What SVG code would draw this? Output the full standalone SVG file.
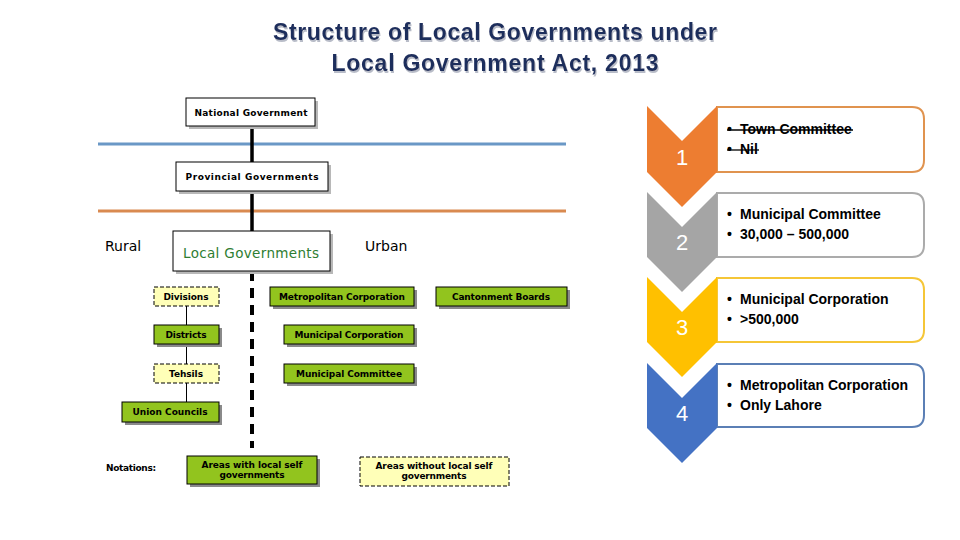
<svg xmlns="http://www.w3.org/2000/svg" width="960" height="540" viewBox="0 0 960 540">
<style>
.title{font-family:"Liberation Sans",Arial,sans-serif;font-weight:bold;font-size:23px;fill:#1F2D5C;text-anchor:middle}
.bx{font-family:"DejaVu Sans",Verdana,sans-serif;font-weight:bold;font-size:9px;fill:#000;text-anchor:middle}
.wbox{fill:#fff;stroke:#000;stroke-width:1}
.gbox{fill:#92C41E;stroke:#000;stroke-width:1}
.ybox{fill:#FFFFB8;stroke:#000;stroke-width:1;stroke-dasharray:4 2}
.sh{fill:#8a8a8a}
.shl{fill:#b8b8b8}
.lbl{font-family:"DejaVu Sans",Verdana,sans-serif;font-size:14px;fill:#000}
.num{font-family:"Liberation Sans",Arial,sans-serif;font-size:22px;fill:#fff;text-anchor:middle}
.lst{font-family:"Liberation Sans",Arial,sans-serif;font-weight:bold;font-size:14px;fill:#000}
</style>
<defs>
<filter id="tsh" x="-5%" y="-20%" width="110%" height="150%">
<feDropShadow dx="1" dy="2" stdDeviation="0.6" flood-color="#9aa0b0" flood-opacity="0.7"/>
</filter>
</defs>

<g id="title" filter="url(#tsh)">
<text class="title" x="495" y="40" textLength="444">Structure of Local Governments under</text>
<text class="title" x="495" y="71" textLength="327">Local Government Act, 2013</text>
</g>

<g id="connectors">
<line x1="98" y1="144" x2="566" y2="144" stroke="#6A98C6" stroke-width="3"/>
<line x1="98" y1="211" x2="566" y2="211" stroke="#D98A50" stroke-width="3"/>
<line x1="252" y1="126" x2="252" y2="162" stroke="#000" stroke-width="3.5"/>
<line x1="252" y1="191" x2="252" y2="231" stroke="#000" stroke-width="3.5"/>
<line x1="252" y1="271" x2="252" y2="448" stroke="#000" stroke-width="4" stroke-dasharray="10 7"/>
<line x1="186.5" y1="306" x2="186.5" y2="402" stroke="#000" stroke-width="1"/>
</g>

<g id="national">
<rect class="shl" x="189" y="101" width="129" height="28"/>
<rect class="wbox" x="186" y="98" width="129" height="28"/>
<text class="bx" x="251" y="116" textLength="113">National Government</text>
</g>

<g id="provincial">
<rect class="shl" x="179" y="165" width="152" height="29"/>
<rect class="wbox" x="176" y="162" width="152" height="29"/>
<text class="bx" x="252" y="180" font-size="10.5" textLength="133">Provincial Governments</text>
</g>

<g id="local">
<rect class="shl" x="176" y="234" width="157" height="40"/>
<rect class="wbox" x="173" y="231" width="157" height="40"/>
<text x="251" y="258" font-family="DejaVu Sans,Verdana,sans-serif" font-size="13.5" fill="#2E7D32" text-anchor="middle" textLength="136">Local Governments</text>
</g>

<g id="rural"><text class="lbl" x="105" y="251">Rural</text></g>
<g id="urban"><text class="lbl" x="365" y="251">Urban</text></g>

<g id="divisions">
<rect class="ybox" x="154" y="287" width="65" height="19"/>
<text class="bx" x="186" y="300" textLength="45">Divisions</text>
</g>
<g id="metro">
<rect class="sh" x="273" y="290" width="144" height="19"/>
<rect class="gbox" x="270" y="287" width="144" height="19"/>
<text class="bx" x="342" y="300" textLength="126">Metropolitan Corporation</text>
</g>
<g id="cantonment">
<rect class="sh" x="439" y="290" width="131" height="19"/>
<rect class="gbox" x="436" y="287" width="131" height="19"/>
<text class="bx" x="501" y="300" textLength="98">Cantonment Boards</text>
</g>
<g id="districts">
<rect class="sh" x="157" y="328" width="65" height="19"/>
<rect class="gbox" x="154" y="325" width="65" height="19"/>
<text class="bx" x="186" y="338" textLength="41">Districts</text>
</g>
<g id="municorp">
<rect class="sh" x="287" y="328" width="130" height="19"/>
<rect class="gbox" x="284" y="325" width="130" height="19"/>
<text class="bx" x="349" y="338" textLength="109">Municipal Corporation</text>
</g>
<g id="tehsils">
<rect class="ybox" x="154" y="364" width="65" height="19"/>
<text class="bx" x="186" y="377" textLength="34">Tehsils</text>
</g>
<g id="municomm">
<rect class="sh" x="287" y="367" width="130" height="19"/>
<rect class="gbox" x="284" y="364" width="130" height="19"/>
<text class="bx" x="349" y="377" textLength="106">Municipal Committee</text>
</g>
<g id="union">
<rect class="sh" x="125" y="405" width="97" height="20"/>
<rect class="gbox" x="122" y="402" width="97" height="20"/>
<text class="bx" x="170" y="415" textLength="75">Union Councils</text>
</g>

<g id="notations">
<text class="bx" x="106" y="471" style="text-anchor:start" textLength="50">Notations:</text>
</g>
<g id="legend-with">
<rect class="sh" x="190" y="459" width="130" height="28"/>
<rect class="gbox" x="187" y="456" width="130" height="28"/>
<text class="bx" x="252" y="468" textLength="101">Areas with local self</text>
<text class="bx" x="252" y="478" textLength="65">governments</text>
</g>
<g id="legend-without">
<rect class="ybox" x="360" y="457" width="149" height="29"/>
<text class="bx" x="434" y="469" textLength="117">Areas without local self</text>
<text class="bx" x="434" y="479" textLength="65">governments</text>
</g>

<g id="step1">
<path d="M717,107 H912 Q924,107 924,119 V160 Q924,172 912,172 H717 Z" fill="#fff" stroke="#E0934F" stroke-width="2"/>
<path d="M647,106 L682,141 L717,106 V172 L682,207 L647,172 Z" fill="#ED7D31"/>
<text class="num" x="682" y="165">1</text>
<text class="lst" x="727" y="134">•</text><text class="lst" x="740" y="134">Town Committee</text>
<text class="lst" x="727" y="154">•</text><text class="lst" x="740" y="154">Nil</text>
<line x1="727" y1="130" x2="853" y2="130" stroke="#000" stroke-width="1.3"/>
<line x1="727" y1="150" x2="759" y2="150" stroke="#000" stroke-width="1.3"/>
</g>
<g id="step2">
<path d="M717,193 H912 Q924,193 924,205 V245 Q924,257 912,257 H717 Z" fill="#fff" stroke="#ABABAB" stroke-width="2"/>
<path d="M647,192 L682,227 L717,192 V257 L682,292 L647,257 Z" fill="#A5A5A5"/>
<text class="num" x="682" y="250">2</text>
<text class="lst" x="727" y="219">•</text><text class="lst" x="740" y="219">Municipal Committee</text>
<text class="lst" x="727" y="239">•</text><text class="lst" x="740" y="239">30,000 – 500,000</text>
</g>
<g id="step3">
<path d="M717,278 H912 Q924,278 924,290 V330 Q924,342 912,342 H717 Z" fill="#fff" stroke="#F5C637" stroke-width="2"/>
<path d="M647,277 L682,312 L717,277 V342 L682,377 L647,342 Z" fill="#FFC000"/>
<text class="num" x="682" y="335">3</text>
<text class="lst" x="727" y="304">•</text><text class="lst" x="740" y="304">Municipal Corporation</text>
<text class="lst" x="727" y="324">•</text><text class="lst" x="740" y="324">&gt;500,000</text>
</g>
<g id="step4">
<path d="M717,364 H912 Q924,364 924,376 V415 Q924,427 912,427 H717 Z" fill="#fff" stroke="#5B7FB5" stroke-width="2"/>
<path d="M647,363 L682,398 L717,363 V428 L682,463 L647,428 Z" fill="#4472C4"/>
<text class="num" x="682" y="421">4</text>
<text class="lst" x="727" y="390">•</text><text class="lst" x="740" y="390">Metropolitan Corporation</text>
<text class="lst" x="727" y="410">•</text><text class="lst" x="740" y="410">Only Lahore</text>
</g>
</svg>
